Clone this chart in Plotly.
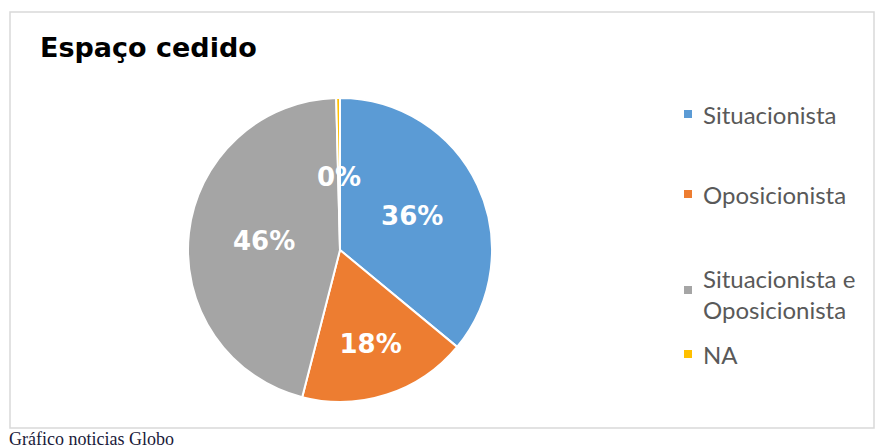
import plotly.graph_objects as go

labels = ["Situacionista", "Oposicionista", "Situacionista e<br>Oposicionista", "NA"]
values = [36, 18, 45.6, 0.4]
colors = ["#5B9BD5", "#ED7D31", "#A5A5A5", "#FFC000"]
legend_y = [114, 194, 290, 354]  # pixel centres of legend markers

W, H = 875, 448
PCT_FONT = dict(family="DejaVu Sans", size=26, color="white", weight="bold")

fig = go.Figure()
fig.add_trace(go.Pie(
    labels=labels,
    values=values,
    marker=dict(colors=colors, line=dict(color="white", width=2)),
    sort=False,
    direction="clockwise",
    rotation=0,
    texttemplate=["%{percent:.0%}", "%{percent:.0%}", "%{percent:.0%}", ""],
    textposition="inside",
    insidetextorientation="horizontal",
    textfont=PCT_FONT,
    domain=dict(x=[188 / W, 492 / W], y=[1 - 402 / H, 1 - 98 / H]),
    showlegend=False,
    hoverinfo="label+percent",
))

annotations = []
shapes = []
# frame
shapes.append(dict(type="rect", xref="paper", yref="paper",
                   x0=10 / W, x1=874 / W, y0=1 - 428 / H, y1=1 - 12 / H,
                   line=dict(color="#d9d9d9", width=1.5), fillcolor="rgba(0,0,0,0)"))
# NA percent label (slice too thin for an inside label)
annotations.append(dict(text="%d%%" % round(values[3]), x=339 / W, y=1 - 177 / H,
                        xref="paper", yref="paper", showarrow=False, font=PCT_FONT))
# legend
for lab, col, ly in zip(labels, colors, legend_y):
    yc = 1 - ly / H
    shapes.append(dict(type="rect", xref="paper", yref="paper",
                       x0=684 / W, x1=692 / W, y0=yc - 4 / H, y1=yc + 4 / H,
                       fillcolor=col, line=dict(width=0)))
    two = "<br>" in lab
    annotations.append(dict(text=lab, x=701 / W,
                            y=(1 - 262 / H) if two else yc,
                            xref="paper", yref="paper", showarrow=False,
                            xanchor="left", yanchor="top" if two else "middle",
                            align="left",
                            font=dict(family="Lato", size=24, color="#595959")))

# title
annotations.append(dict(text="<b>Espaço cedido</b>", x=38 / W, y=1 - 47 / H,
                        xref="paper", yref="paper", showarrow=False,
                        xanchor="left", yanchor="middle",
                        font=dict(family="DejaVu Sans", size=27, color="black")))
# caption
annotations.append(dict(text="Gráfico noticias Globo", x=7 / W, y=1 - 439 / H,
                        xref="paper", yref="paper", showarrow=False,
                        xanchor="left", yanchor="middle",
                        font=dict(family="Liberation Serif", size=18, color="#1a1a3a")))

fig.update_layout(
    width=W, height=H,
    margin=dict(l=0, r=0, t=0, b=0),
    paper_bgcolor="white", plot_bgcolor="white",
    annotations=annotations, shapes=shapes,
)
fig.write_html("out.html")
